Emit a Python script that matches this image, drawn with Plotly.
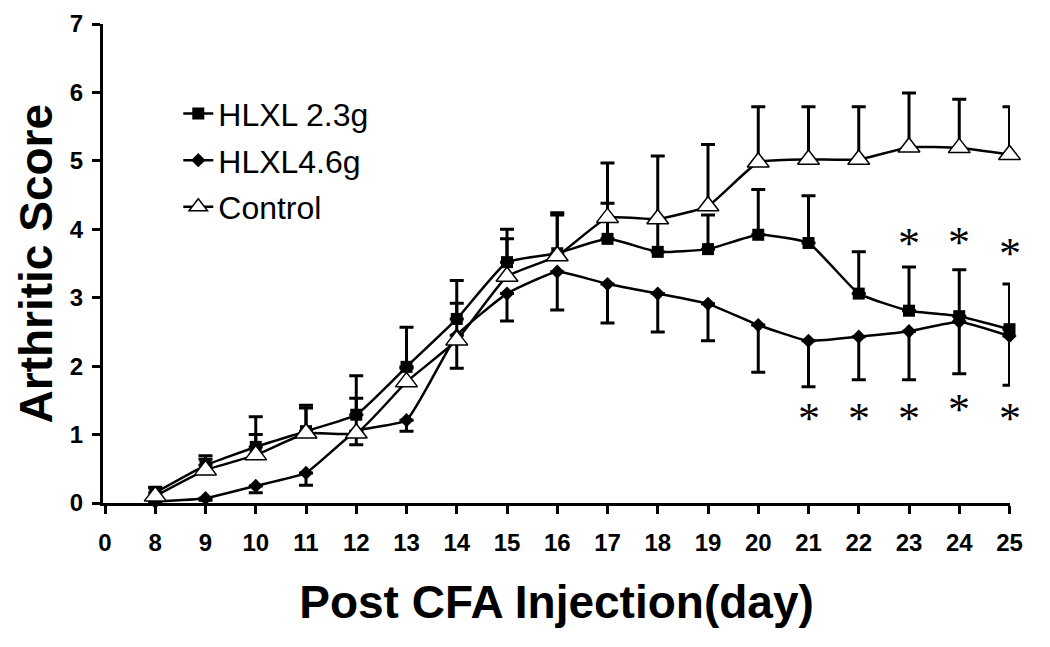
import plotly.graph_objects as go

categories = ["0", "8", "9", "10", "11", "12", "13", "14", "15", "16",
              "17", "18", "19", "20", "21", "22", "23", "24", "25"]
days = ["8", "9", "10", "11", "12", "13", "14", "15", "16",
        "17", "18", "19", "20", "21", "22", "23", "24", "25"]

hlxl23 = [0.15, 0.55, 0.82, 1.05, 1.29, 1.99, 2.69, 3.52, 3.65,
          3.86, 3.67, 3.71, 3.92, 3.80, 3.06, 2.81, 2.73, 2.54]
hlxl23_err = [0.08, 0.14, 0.44, 0.38, 0.57, 0.58, 0.56, 0.48, 0.59,
              0.52, 0.45, 0.50, 0.66, 0.69, 0.61, 0.64, 0.68, 0.66]

hlxl46 = [0.02, 0.07, 0.25, 0.44, 1.05, 1.21, 2.45, 3.06, 3.38,
          3.20, 3.06, 2.91, 2.60, 2.37, 2.43, 2.51, 2.65, 2.44]
hlxl46_err = [0.02, 0.03, 0.10, 0.18, 0.20, 0.16, 0.48, 0.40, 0.56,
              0.57, 0.56, 0.54, 0.69, 0.67, 0.63, 0.71, 0.76, 0.72]

control = [0.10, 0.48, 0.70, 1.02, 1.02, 1.77, 2.38, 3.31, 3.61,
           4.17, 4.15, 4.34, 4.98, 5.02, 5.02, 5.20, 5.19, 5.09]
control_err = [0.12, 0.16, 0.30, 0.37, 0.51, 0.20, 0.54, 0.55, 0.60,
               0.80, 0.92, 0.90, 0.81, 0.77, 0.77, 0.79, 0.71, 0.70]

star_upper_days = ["23", "24", "25"]
star_upper_y = [3.85, 3.87, 3.70]
star_lower_days = ["21", "22", "23", "24", "25"]
star_lower_y = [1.30, 1.30, 1.30, 1.43, 1.30]

y_ticks = [0, 1, 2, 3, 4, 5, 6, 7]

fig = go.Figure()

line_style = dict(color="black", width=2.5, shape="spline", smoothing=0.4)

fig.add_trace(go.Scatter(
    x=days, y=hlxl23, name="HLXL 2.3g", mode="lines+markers",
    line=line_style, legendgroup="a",
    marker=dict(symbol="square", size=12, color="black"),
    error_y=dict(type="data", array=hlxl23_err, arrayminus=[0] * len(days),
                 symmetric=False, color="black", thickness=3, width=7),
    cliponaxis=False,
))
fig.add_trace(go.Scatter(
    x=days, y=hlxl46, name="HLXL4.6g", mode="lines+markers",
    line=line_style, legendgroup="b",
    marker=dict(symbol="diamond", size=11, color="black"),
    error_y=dict(type="data", array=[0] * len(days), arrayminus=hlxl46_err,
                 symmetric=False, color="black", thickness=3, width=7),
    cliponaxis=False,
))
fig.add_trace(go.Scatter(
    x=days, y=control, name="Control", mode="lines+markers",
    line=line_style, legendgroup="c",
    marker=dict(symbol="triangle-up", size=19, color="white",
                line=dict(color="black", width=1.5)),
    error_y=dict(type="data", array=control_err, arrayminus=[0] * len(days),
                 symmetric=False, color="black", thickness=3, width=7),
    cliponaxis=False,
))

star_font = dict(family="Liberation Serif, Times New Roman, serif", size=44, color="black")
for sx, sy in list(zip(star_upper_days, star_upper_y)) + list(zip(star_lower_days, star_lower_y)):
    fig.add_annotation(x=categories.index(sx), y=sy, xref="x", yref="y", text="*",
                       showarrow=False, font=star_font, yshift=-4)

# axis break between 0 and 8
fig.add_shape(type="rect", xref="x", yref="y", x0=0.40, x1=0.54, y0=-0.06, y1=0.06,
              fillcolor="white", line=dict(width=0), layer="above")

tick_font = dict(family="Liberation Sans, Arial, sans-serif", size=24,
                 color="black", weight="bold")
title_font = dict(family="Liberation Sans, Arial, sans-serif", size=46,
                  color="black", weight="bold")

# y-axis title
fig.add_annotation(text="Arthritic Score", xref="paper", yref="paper",
                   x=-0.0739, y=0.5, xanchor="center", yanchor="middle",
                   textangle=-90, showarrow=False, font=title_font)

fig.update_layout(
    width=1050, height=647,
    margin=dict(l=95, r=48, t=16, b=152),
    paper_bgcolor="white", plot_bgcolor="white",
    showlegend=True,
    legend=dict(x=0.083, y=0.87, xanchor="left", yanchor="top",
                font=dict(family="Liberation Sans, Arial, sans-serif", size=32, color="black"),
                bgcolor="rgba(0,0,0,0)", tracegroupgap=2),
    xaxis=dict(
        type="category", categoryorder="array", categoryarray=categories,
        tickmode="array", tickvals=categories, ticktext=categories,
        range=[-0.04, 18.01], automargin="bottom",
        showline=True, linecolor="black", linewidth=3,
        ticks="outside", ticklen=8, tickwidth=2.5, tickcolor="black",
        showgrid=False, zeroline=False, tickfont=tick_font, ticklabelstandoff=8,
        title=dict(text="Post CFA Injection(day)", font=title_font, standoff=32),
    ),
    yaxis=dict(
        range=[0, 7], tickmode="array", tickvals=y_ticks, automargin="left",
        showline=True, linecolor="black", linewidth=3,
        ticks="outside", ticklen=8, tickwidth=2.5, tickcolor="black",
        showgrid=False, zeroline=False, tickfont=tick_font, ticklabelstandoff=4,
    ),
)

fig.write_html("out.html")
